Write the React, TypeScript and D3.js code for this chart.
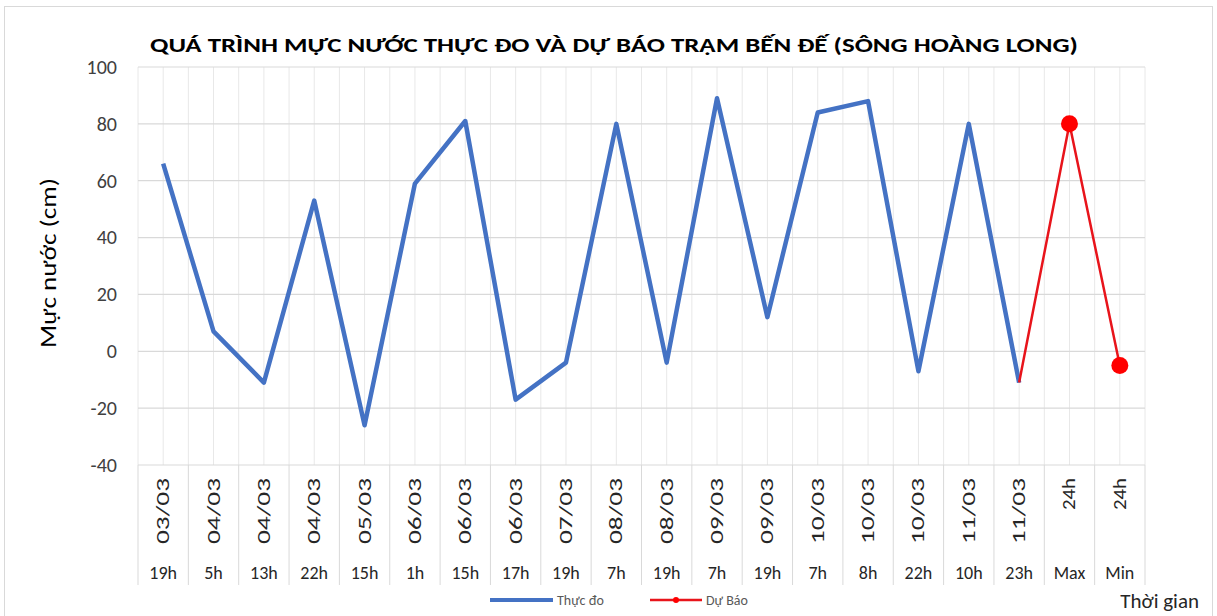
import { useEffect, useRef } from "react";
import * as d3 from "d3";

const dates = [
  "03/03", "04/03", "04/03", "04/03", "05/03", "06/03", "06/03", "06/03", "07/03", "08/03",
  "08/03", "09/03", "09/03", "10/03", "10/03", "10/03", "11/03", "11/03", "24h", "24h",
];
const hours = [
  "19h", "5h", "13h", "22h", "15h", "1h", "15h", "17h", "19h", "7h",
  "19h", "7h", "19h", "7h", "8h", "22h", "10h", "23h", "Max", "Min",
];
const observed: (number | null)[] = [
  66, 7, -11, 53, -26, 59, 81, -17, -4, 80, -4, 89, 12, 84, 88, -7, 80, -11, null, null,
];
const forecast: (number | null)[] = [
  null, null, null, null, null, null, null, null, null, null,
  null, null, null, null, null, null, null, -11, 80, -5,
];
const yTicks = [-40, -20, 0, 20, 40, 60, 80, 100];

const BLUE = "#4472c4";
const RED = "#ff0000";
const GRID = "#d9d9d9";
const GRID_V = "#e8e8e8";
const TEXT = "#000000";

export default function App() {
  const ref = useRef<HTMLDivElement>(null);

  useEffect(() => {
    if (!ref.current) return;
    document.body.style.margin = "0";
    d3.select(ref.current).selectAll("*").remove();

    const W = 1217;
    const H = 616;
    const margin = { top: 67, right: 72, bottom: 151, left: 138 };
    const width = W - margin.left - margin.right;
    const height = H - margin.top - margin.bottom;

    const svg = d3
      .select(ref.current)
      .append("svg")
      .attr("width", W)
      .attr("height", H)
      .style("display", "block")
      .style("font-family", "Calibri, 'Open Sans', 'Noto Sans', sans-serif");

    svg.append("rect").attr("width", W).attr("height", H).attr("fill", "#fff");
    svg
      .append("rect")
      .attr("x", 4.5)
      .attr("y", 6.5)
      .attr("width", W - 9)
      .attr("height", H - 6)
      .attr("fill", "none")
      .attr("stroke", "#d9d9d9");

    const g = svg.append("g").attr("transform", `translate(${margin.left},${margin.top})`);

    const idx = d3.range(dates.length);
    const x = d3.scaleBand<number>().domain(idx).range([0, width]);
    const bw = x.bandwidth();
    const cx = (i: number) => (x(i) as number) + bw / 2;
    const y = d3.scaleLinear().domain([-40, 100]).range([height, 0]);

    // vertical grid: boundaries and centers
    const vLines = [...idx.map((i) => x(i) as number), width, ...idx.map(cx)];
    g.selectAll("line.vgrid")
      .data(vLines)
      .join("line")
      .attr("class", "vgrid")
      .attr("x1", (d) => d)
      .attr("x2", (d) => d)
      .attr("y1", 0)
      .attr("y2", height)
      .attr("stroke", GRID_V)
      .attr("stroke-width", 1);

    // horizontal grid
    g.selectAll("line.hgrid")
      .data(yTicks)
      .join("line")
      .attr("class", "hgrid")
      .attr("x1", 0)
      .attr("x2", width)
      .attr("y1", (d) => y(d))
      .attr("y2", (d) => y(d))
      .attr("stroke", GRID)
      .attr("stroke-width", 1.2);

    // Y axis labels (plain hyphen minus, like Excel)
    g.append("g")
      .call(
        d3
          .axisLeft(y)
          .tickValues(yTicks)
          .tickSize(0)
          .tickPadding(21)
          .tickFormat((d) => String(d)),
      )
      .call((ax) => ax.select(".domain").remove())
      .selectAll("text")
      .attr("font-size", "20px")
      .attr("font-family", "Calibri, 'Open Sans', sans-serif")
      .attr("fill", "#404040");

    // Category separators below the axis
    const sep = [...idx.map((i) => x(i) as number), width];
    g.selectAll("line.sep")
      .data(sep)
      .join("line")
      .attr("class", "sep")
      .attr("x1", (d) => d)
      .attr("x2", (d) => d)
      .attr("y1", height)
      .attr("y2", height + 120)
      .attr("stroke", GRID)
      .attr("stroke-width", 1);

    // Date labels (rotated, tall and narrow as in the picture)
    g.selectAll("text.date")
      .data(idx)
      .join("text")
      .attr("class", "date")
      .attr("transform", (i) => `translate(${cx(i) + 6},${height + 13}) rotate(-90)`)
      .attr("text-anchor", "end")
      .attr("font-size", "18px")
      .attr("fill", "#262626")
      .attr("textLength", (i) => (dates[i].length > 3 ? 66 : 32))
      .attr("lengthAdjust", "spacingAndGlyphs")
      .text((i) => dates[i]);

    // Hour labels
    g.selectAll("text.hour")
      .data(idx)
      .join("text")
      .attr("class", "hour")
      .attr("x", (i) => cx(i))
      .attr("y", height + 114)
      .attr("text-anchor", "middle")
      .attr("font-size", "18px")
      .attr("fill", "#262626")
      .text((i) => hours[i]);

    // Lines
    const line = d3
      .line<number | null>()
      .defined((d) => d !== null)
      .x((_, i) => cx(i))
      .y((d) => y(d as number));

    g.append("path")
      .datum(observed)
      .attr("fill", "none")
      .attr("stroke", BLUE)
      .attr("stroke-width", 4.5)
      .attr("stroke-linejoin", "round")
      .attr("d", line);

    g.append("path")
      .datum(forecast)
      .attr("fill", "none")
      .attr("stroke", "#e8141b")
      .attr("stroke-width", 2.5)
      .attr("stroke-linejoin", "round")
      .attr("d", line);

    const firstF = forecast.findIndex((d) => d !== null);
    g.selectAll("circle.mk")
      .data(idx.filter((i) => forecast[i] !== null && i !== firstF))
      .join("circle")
      .attr("class", "mk")
      .attr("cx", (i) => cx(i))
      .attr("cy", (i) => y(forecast[i] as number))
      .attr("r", 8.5)
      .attr("fill", RED);

    // Title
    svg
      .append("text")
      .attr("x", 614)
      .attr("y", 52)
      .attr("text-anchor", "middle")
      .attr("font-size", "21px")
      .attr("font-weight", "700")
      .attr("fill", TEXT)
      .attr("textLength", 928)
      .attr("lengthAdjust", "spacingAndGlyphs")
      .text("QUÁ TRÌNH MỰC NƯỚC THỰC ĐO VÀ DỰ BÁO TRẠM BẾN ĐẾ (SÔNG HOÀNG LONG)");

    // Y axis title
    svg
      .append("text")
      .attr("transform", "translate(56,263) rotate(-90)")
      .attr("text-anchor", "middle")
      .attr("font-size", "22px")
      .attr("fill", TEXT)
      .attr("textLength", 170)
      .attr("lengthAdjust", "spacingAndGlyphs")
      .text("Mực nước (cm)");

    // X axis title
    svg
      .append("text")
      .attr("x", 1199)
      .attr("y", 608)
      .attr("text-anchor", "end")
      .attr("font-size", "21px")
      .attr("fill", "#262626")
      .text("Thời gian");

    // Legend
    const lg = svg.append("g").attr("transform", "translate(0,600)");
    lg.append("line")
      .attr("x1", 490)
      .attr("x2", 553)
      .attr("stroke", BLUE)
      .attr("stroke-width", 4);
    lg.append("text")
      .attr("x", 557)
      .attr("y", 5)
      .attr("font-size", "14px")
      .attr("fill", "#595959")
      .text("Thực đo");
    lg.append("line")
      .attr("x1", 650)
      .attr("x2", 702)
      .attr("stroke", "#e8141b")
      .attr("stroke-width", 2.5);
    lg.append("circle").attr("cx", 676).attr("r", 3).attr("fill", RED);
    lg.append("text")
      .attr("x", 706)
      .attr("y", 5)
      .attr("font-size", "14px")
      .attr("fill", "#595959")
      .text("Dự Báo");
  }, []);

  return <div ref={ref} style={{ width: 1217, height: 616 }} />;
}
